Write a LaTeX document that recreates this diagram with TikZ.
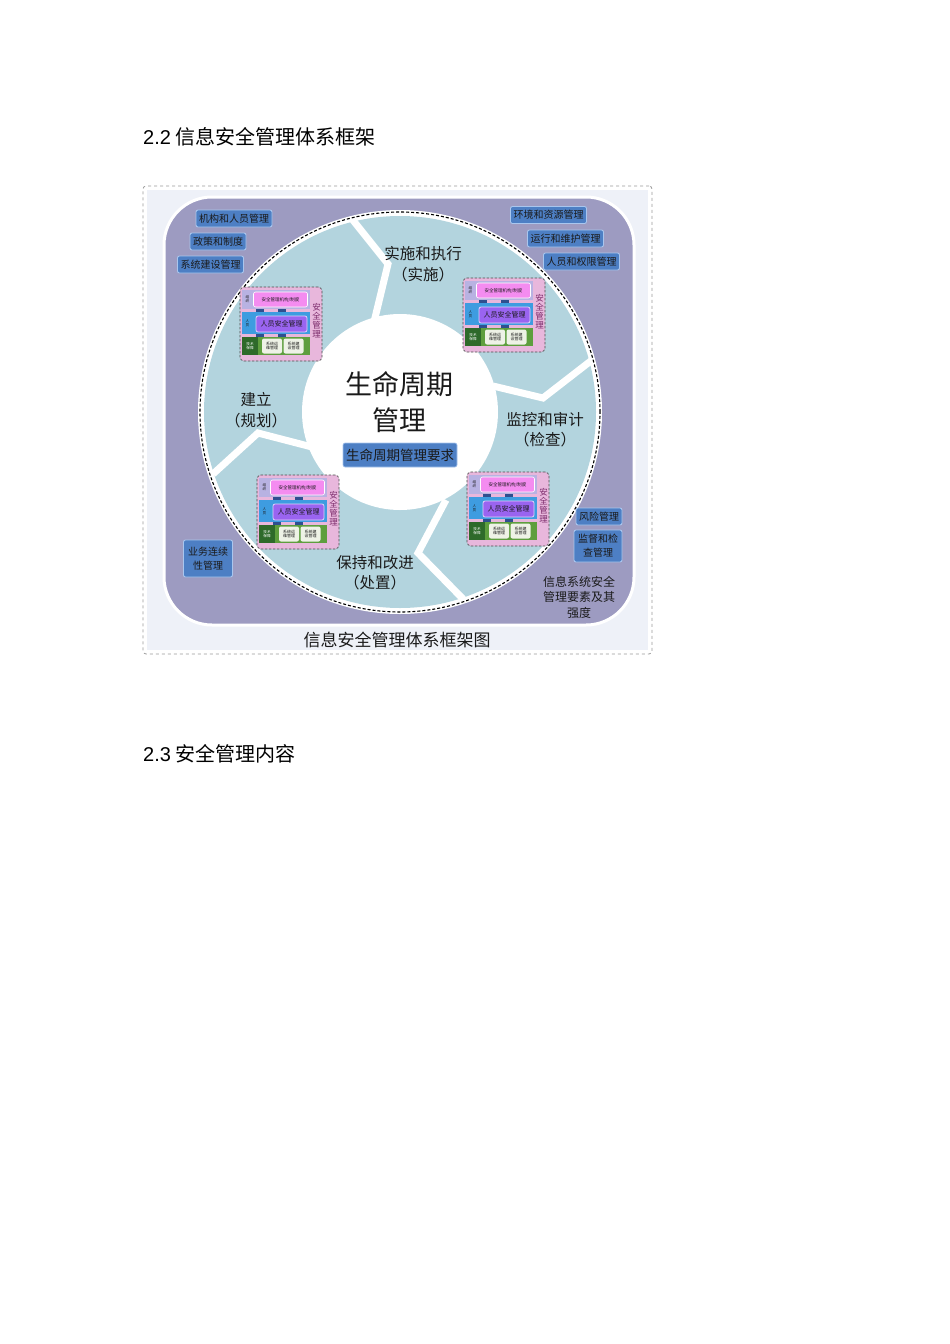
\documentclass[tikz,border=0pt]{standalone}
\usepackage{fontspec}
\setmainfont{Noto Sans CJK SC}
\newfontfamily\arialf{Liberation Sans}
\definecolor{bgl}{HTML}{EEF1F8}
\definecolor{purp}{HTML}{9D9BC1}
\definecolor{ringblue}{HTML}{B3D4DE}
\definecolor{tagblue}{HTML}{4D7FC4}
\definecolor{tagedge}{HTML}{A9C6EE}
\definecolor{minipink}{HTML}{E8B7DC}
\definecolor{rowA}{HTML}{B8B2E2}
\definecolor{rowB}{HTML}{3E9CE0}
\definecolor{rowC}{HTML}{5E9E3E}
\definecolor{rowCdark}{HTML}{2E6A2A}
\definecolor{magbox}{HTML}{F48CF0}
\definecolor{purbox}{HTML}{9A64F0}
\definecolor{greybox}{HTML}{EEF2E6}
\definecolor{vtext}{HTML}{7A2A6A}
\definecolor{navy}{HTML}{2F4F8F}
\definecolor{ink}{HTML}{1A1A1A}
\tikzset{
  head/.style={font=\fontsize{20}{24}\selectfont, text=black, inner sep=0pt},
  framebox/.style={draw=gray!80, dashed, line width=0.8pt, fill=white, rounded corners=3pt},
  tagbox/.style={rectangle, rounded corners=2pt, fill=tagblue, draw=tagedge, line width=0.9pt,
     font=\fontsize{10}{12}\selectfont, text=ink, inner xsep=3pt, inner ysep=0pt, minimum height=17pt, align=center},
  phase/.style={font=\fontsize{15.5}{20.5}\selectfont, text=ink, align=center, inner sep=0pt},
  chev/.style={draw=white, line width=7pt, line join=miter, line cap=butt},
  minibox/.style={rectangle, rounded corners=4pt, fill=minipink, draw=gray!60!black, dash pattern=on 2.5pt off 1.5pt, line width=0.7pt},
  bar/.style={rectangle, inner sep=0pt},
  inbox/.style={rectangle, rounded corners=2pt, inner sep=0pt, align=center, text=ink},
  tinylab/.style={font=\fontsize{3.6}{4}\selectfont, text=ink, align=center, inner sep=0pt},
  vt/.style={font=\fontsize{8.5}{9}\selectfont, text=vtext, align=center, inner sep=0pt},
  stitch/.style={draw=navy, line width=8pt},
}
\newcommand{\minidiag}[3]{%
\begin{scope}[shift={(#1,#2)}]
  \node[minibox, minimum width=82pt, minimum height=74pt] (#3) at (41,37) {};
  \node[bar, fill=rowA, minimum width=68pt, minimum height=19pt] (#3r1) at (36,12.5) {};
  \node[bar, fill=rowB, minimum width=68pt, minimum height=22pt] (#3r2) at (36,36) {};
  \node[bar, fill=rowC, minimum width=68pt, minimum height=18pt] (#3r3) at (36,59) {};
  \fill[rowCdark] (2,50) rectangle (18,68);
  \node[tinylab] (#3l1) at (7.5,12.5) {组\\织};
  \node[tinylab] (#3l2) at (7.5,36) {人\\员};
  \node[tinylab, text=white] (#3l3) at (10,59) {技术\\保障};
  \node[inbox, fill=magbox, draw=white, line width=0.6pt, minimum width=54pt, minimum height=15pt,
        font=\fontsize{4.5}{5}\selectfont] (#3a) at (40.5,12.5) {安全管理机构/制度};
  \node[inbox, fill=purbox, draw=white!70!purbox, line width=0.8pt, minimum width=51pt, minimum height=16pt,
        font=\fontsize{7}{8}\selectfont] (#3b) at (41.5,37) {人员安全管理};
  \node[inbox, fill=greybox, minimum width=20pt, minimum height=15pt,
        font=\fontsize{4}{4.6}\selectfont] (#3c) at (32,59) {系统运\\维管理};
  \node[inbox, fill=greybox, minimum width=20pt, minimum height=15pt,
        font=\fontsize{4}{4.6}\selectfont] (#3d) at (53.5,59) {系统建\\设管理};
  \draw[stitch] ([xshift=-16pt]#3r1.south) -- ([xshift=-16pt]#3r2.north);
  \draw[stitch] ([xshift=6pt]#3r1.south) -- ([xshift=6pt]#3r2.north);
  \draw[stitch] ([xshift=-16pt]#3r2.south) -- ([xshift=-16pt]#3r3.north);
  \draw[stitch] ([xshift=6pt]#3r2.south) -- ([xshift=6pt]#3r3.north);
  \node[vt] (#3v) at (76.5,34) {安\\全\\管\\理};
\end{scope}}
\begin{document}
\begin{tikzpicture}[x=1pt,y=-1pt]
\useasboundingbox (0,0) rectangle (950,1344);
\fill[white] (0,0) rectangle (950,1344);

% headings
\node[head, anchor=west] (h22) at (143,137) {{\arialf 2.2} 信息安全管理体系框架};
\node[head, anchor=west] (h23) at (143,754) {{\arialf 2.3} 安全管理内容};

% frame
\node[framebox, minimum width=509pt, minimum height=468pt] (frame) at (397.5,420) {};
\fill[bgl] (147,190) rectangle (648,650);
\draw[white, line width=3pt, fill=purp, rounded corners=48pt] (164,197) rectangle (634,625);

% ring
\node[circle, fill=white, minimum size=404pt, inner sep=0pt] (band) at (400,412) {};
\node[circle, fill=ringblue, minimum size=392pt, inner sep=0pt] (ring) at (400,412) {};
\draw[chev] (352,219) -- (388,264) -- (374,322);
\draw[chev] (592,360) -- (543,398) -- (493,386);
\draw[chev] (465,601) -- (418,553) -- (446,500);
\draw[chev] (213,474) -- (258,433) -- (312,447);
\node[circle, fill=white, minimum size=196pt, inner sep=0pt] (core) at (400,412) {};
\node[circle, draw=black, dash pattern=on 3pt off 2pt, line width=1.1pt, minimum size=400pt, inner sep=0pt] (rim) at (400,412) {};

% phases
\node[phase] (p1) at (423,264) {实施和执行\\（实施）};
\node[phase] (p2) at (256,410) {建立\\（规划）};
\node[phase] (p3) at (545,429.5) {监控和审计\\（检查）};
\node[phase] (p4) at (375,572.5) {保持和改进\\（处置）};

% core
\node[font=\fontsize{27}{36}\selectfont, text=ink, align=center, inner sep=0pt] (life) at (399,402) {生命周期\\管理};
\node[rectangle, rounded corners=2pt, fill=tagblue, draw=tagedge, line width=0.6pt, minimum width=114pt,
      minimum height=24pt, inner sep=0pt, font=\fontsize{13.5}{15}\selectfont, text=ink] (req) at (400,455) {生命周期管理要求};

% tags
\node[tagbox] (t1) at (234,218.5) {机构和人员管理};
\node[tagbox] (t2) at (218,241.5) {政策和制度};
\node[tagbox] (t3) at (210.5,264.5) {系统建设管理};
\node[tagbox] (t4) at (548.5,215) {环境和资源管理};
\node[tagbox] (t5) at (565.5,238.5) {运行和维护管理};
\node[tagbox] (t6) at (581.5,261.5) {人员和权限管理};
\node[tagbox] (t7) at (599,516.5) {风险管理};
\node[tagbox, minimum width=48pt, minimum height=32pt, font=\fontsize{10}{14}\selectfont] (t8) at (598,546) {监督和检\\查管理};
\node[tagbox, minimum width=49pt, minimum height=37pt, font=\fontsize{10}{14}\selectfont] (t9) at (208,558.5) {业务连续\\性管理};

\node[font=\fontsize{12}{15.5}\selectfont, text=ink, align=center, inner sep=0pt] (note) at (579,597) {信息系统安全\\管理要素及其\\强度};

% mini diagrams
\minidiag{240}{287}{ma}
\minidiag{463}{278}{mb}
\minidiag{257}{475}{mc}
\minidiag{467}{472}{md}

% caption
\node[font=\fontsize{17}{20}\selectfont, text=ink, inner sep=0pt] (cap) at (397,640) {信息安全管理体系框架图};
\end{tikzpicture}
\end{document}
